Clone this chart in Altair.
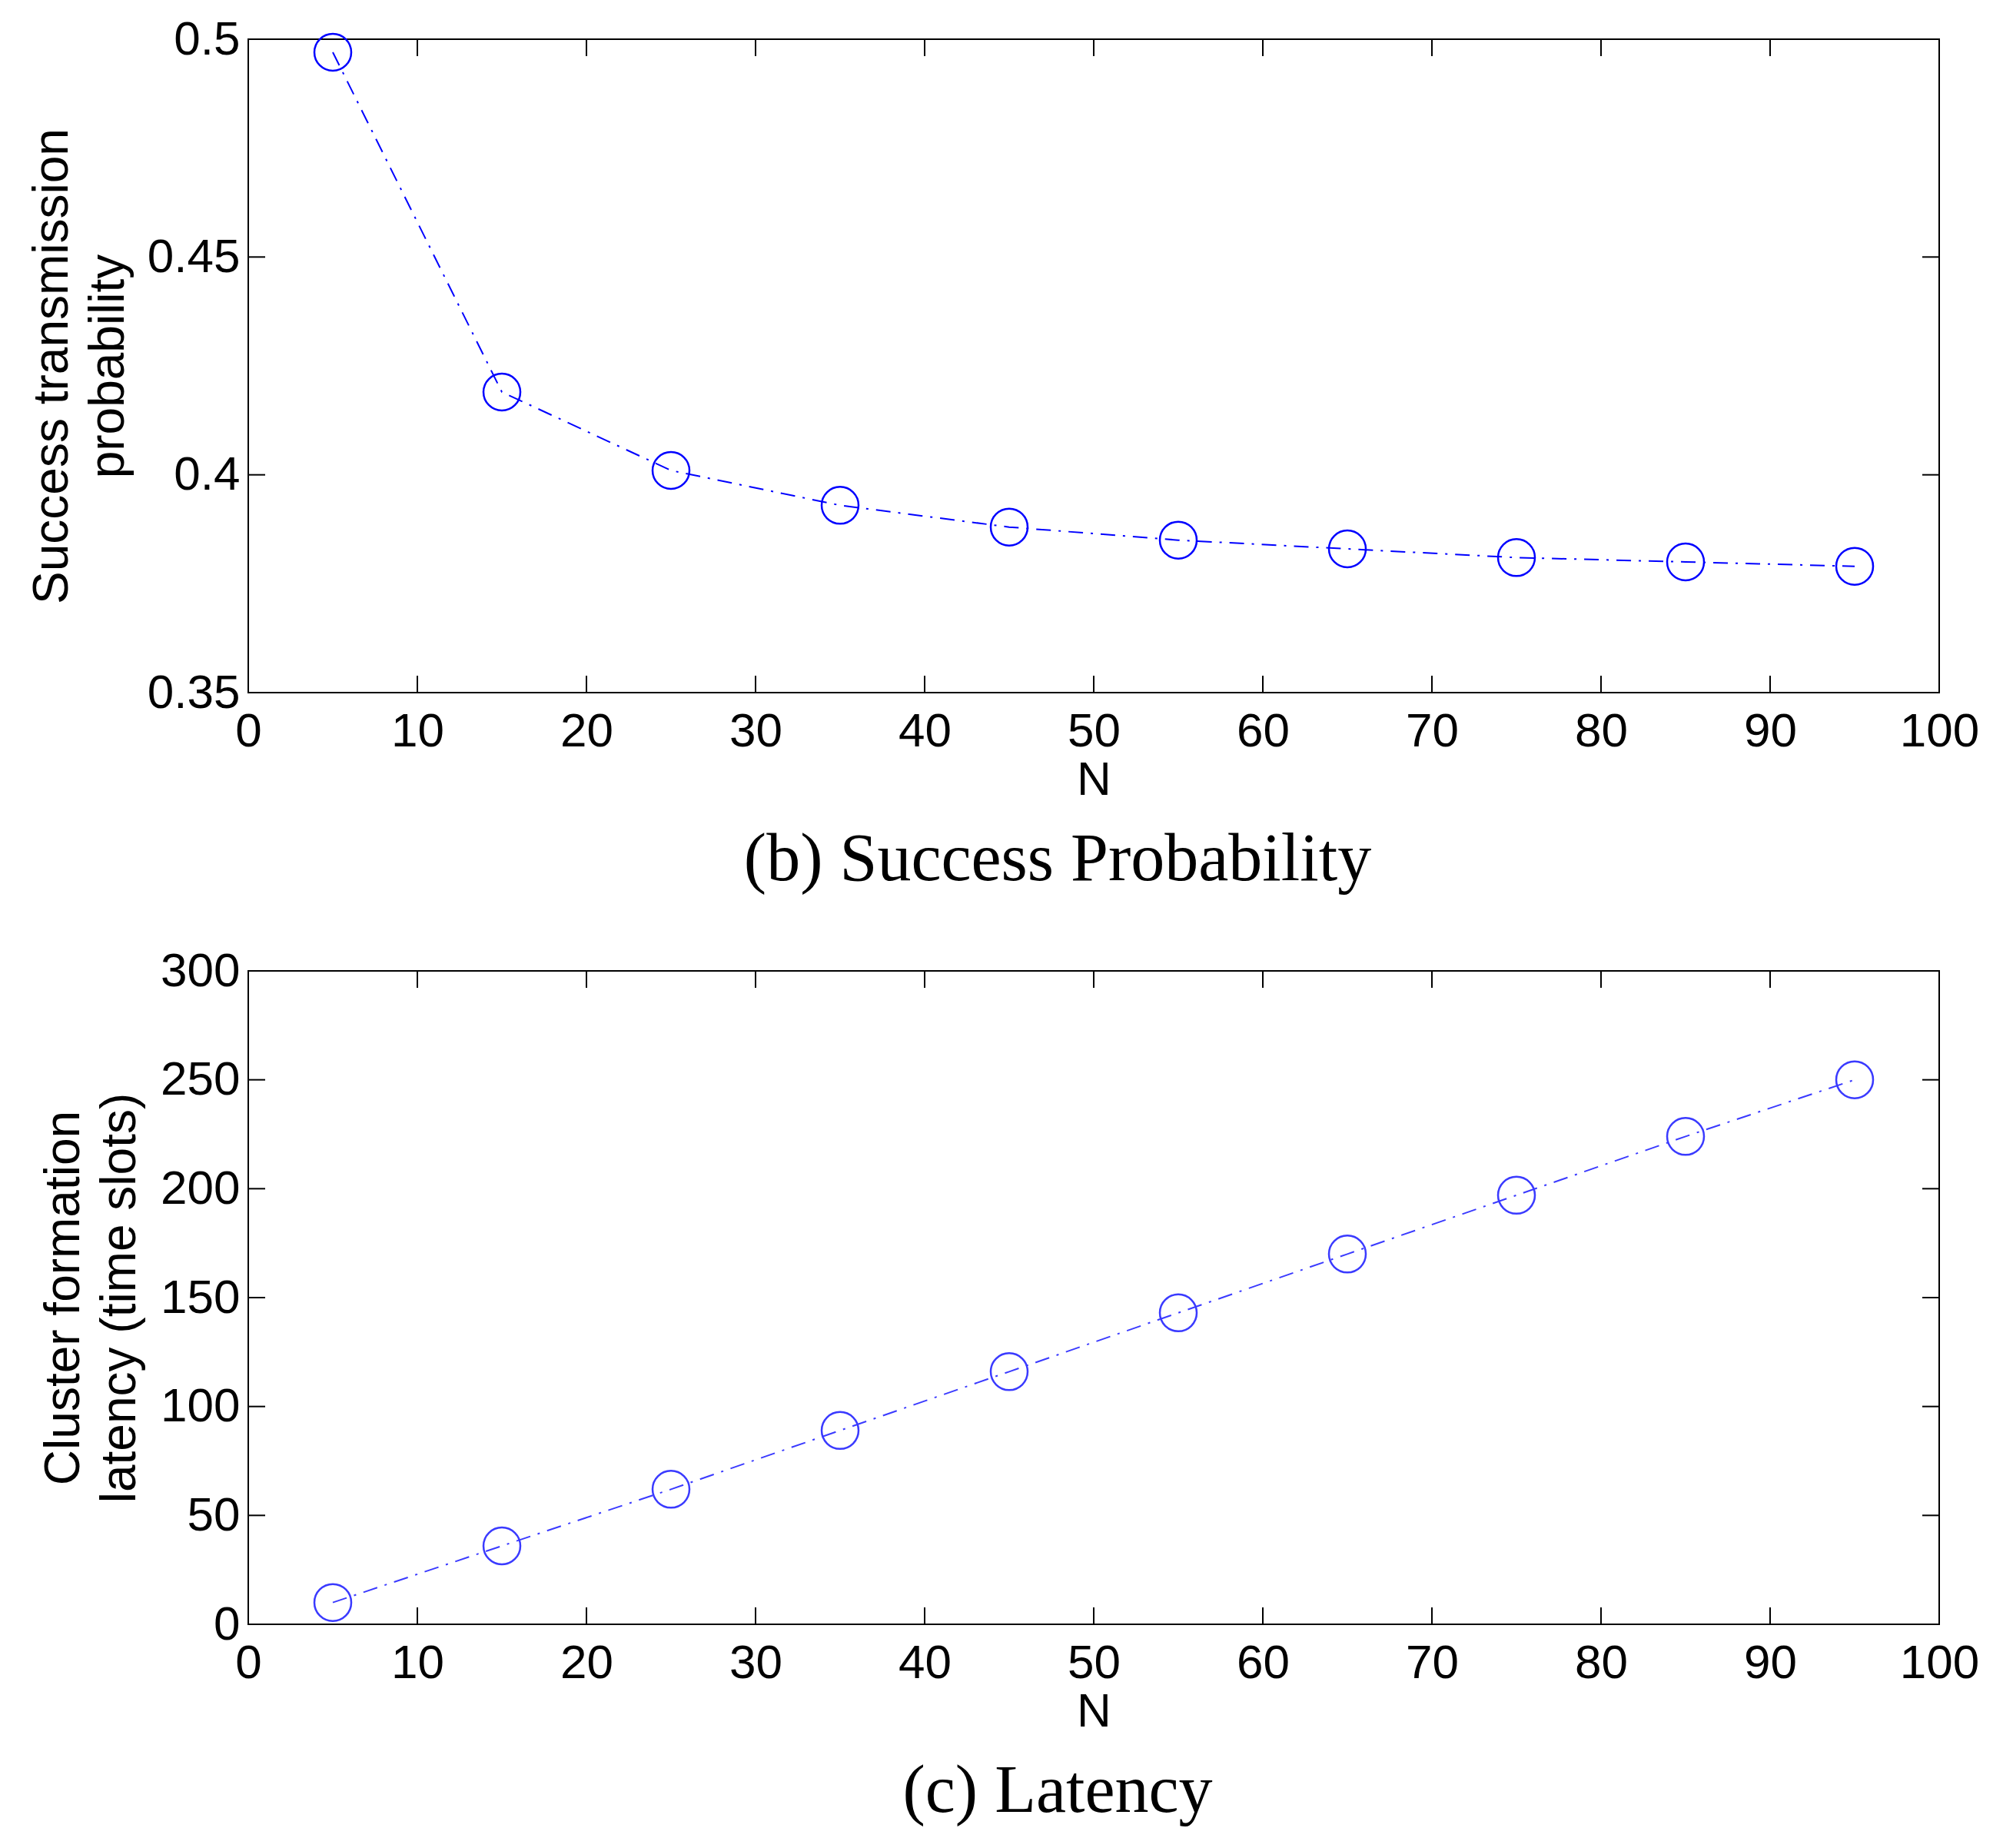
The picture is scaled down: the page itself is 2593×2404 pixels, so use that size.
import altair as alt
import pandas as pd

# ---------------- data ----------------
N_VALUES = [5, 15, 25, 35, 45, 55, 65, 75, 85, 95]
SUCCESS_PROB = [0.497, 0.419, 0.401, 0.393, 0.388, 0.385, 0.383, 0.381, 0.380, 0.379]
LATENCY = [10, 36, 62, 89, 116, 143, 170, 197, 224, 250]

X_TICKS = [0, 10, 20, 30, 40, 50, 60, 70, 80, 90, 100]
Y1_TICKS = [0.35, 0.40, 0.45, 0.50]
Y2_TICKS = [0, 50, 100, 150, 200, 250, 300]

TITLE_1 = ["Success transmission", "probability"]
TITLE_2 = ["Cluster formation", "latency (time slots)"]
CAPTION_1 = "(b) Success Probability"
CAPTION_2 = "(c) Latency"

# ---------------- style ----------------
W, H = 2200, 850
TICK = 22
SANS = "Liberation Sans"
SERIF = "Liberation Serif"


def panel(values, yticks, ydomain, yformat, ytitle, caption, color, title_pad):
    df = pd.DataFrame({"N": N_VALUES, "v": values})
    xs = alt.Scale(domain=[0, 100], nice=False, zero=False)
    ys = alt.Scale(domain=ydomain, nice=False, zero=False)
    xaxis = alt.Axis(
        values=X_TICKS, title="N", format="d", ticks=False, tickSize=0,
        domain=False, grid=False, labelFont=SANS, labelFontSize=62,
        labelColor="black", labelPadding=20, labelFlush=False,
        labelOverlap=False, titleFont=SANS, titleFontSize=62,
        titleFontWeight="normal", titleColor="black", titlePadding=2,
    )
    yaxis = alt.Axis(
        values=yticks, title=ytitle, format=yformat, ticks=False, tickSize=0,
        domain=False, grid=False, labelFont=SANS, labelFontSize=62,
        labelColor="black", labelPadding=11, labelFlush=False,
        labelOverlap=False, labelLimit=400, titleFont=SANS, titleFontSize=64,
        titleFontWeight="normal", titleColor="black",
        titleLineHeight=73, titlePadding=title_pad,
    )
    X = alt.X("N:Q", scale=xs, axis=xaxis)
    Y = alt.Y("v:Q", scale=ys, axis=yaxis)

    base = alt.Chart(df)
    line = base.mark_line(
        color=color, strokeWidth=2, strokeDash=[19, 10, 3, 10]
    ).encode(x=X, y=Y)
    pts = base.mark_point(
        shape="circle", filled=False, size=2304, strokeWidth=2.5,
        color=color, opacity=1,
    ).encode(x=X, y=Y)

    xt = alt.Chart(pd.DataFrame({"N": X_TICKS}))
    yt = alt.Chart(pd.DataFrame({"v": yticks}))
    rule = dict(color="black", strokeWidth=2)
    t_bottom = xt.mark_rule(**rule).encode(x=X, y=alt.value(H), y2=alt.value(H - TICK))
    t_top = xt.mark_rule(**rule).encode(x=X, y=alt.value(0), y2=alt.value(TICK))
    t_left = yt.mark_rule(**rule).encode(y=Y, x=alt.value(0), x2=alt.value(TICK))
    t_right = yt.mark_rule(**rule).encode(y=Y, x=alt.value(W), x2=alt.value(W - TICK))

    return alt.layer(line, pts, t_bottom, t_top, t_left, t_right).properties(
        width=W, height=H,
        title=alt.TitleParams(
            text=caption, orient="bottom", anchor="middle", frame="group",
            font=SERIF, fontSize=88, fontWeight="normal", color="black",
            offset=30, dx=-47,
        ),
    )


top = panel(SUCCESS_PROB, Y1_TICKS, [0.35, 0.5], ".2~f", TITLE_1, CAPTION_1, "#0000ff", 18)
bottom = panel(LATENCY, Y2_TICKS, [0, 300], "d", TITLE_2, CAPTION_2, "#3a3aff", 20)

chart = (
    alt.vconcat(top, bottom, spacing=67)
    .properties(padding={"left": 27, "top": 11, "right": 5, "bottom": 5}, background="white")
    .configure_view(stroke="black", strokeWidth=2)
)

chart.save("out.html", embed_options={"renderer": "svg", "actions": False})
